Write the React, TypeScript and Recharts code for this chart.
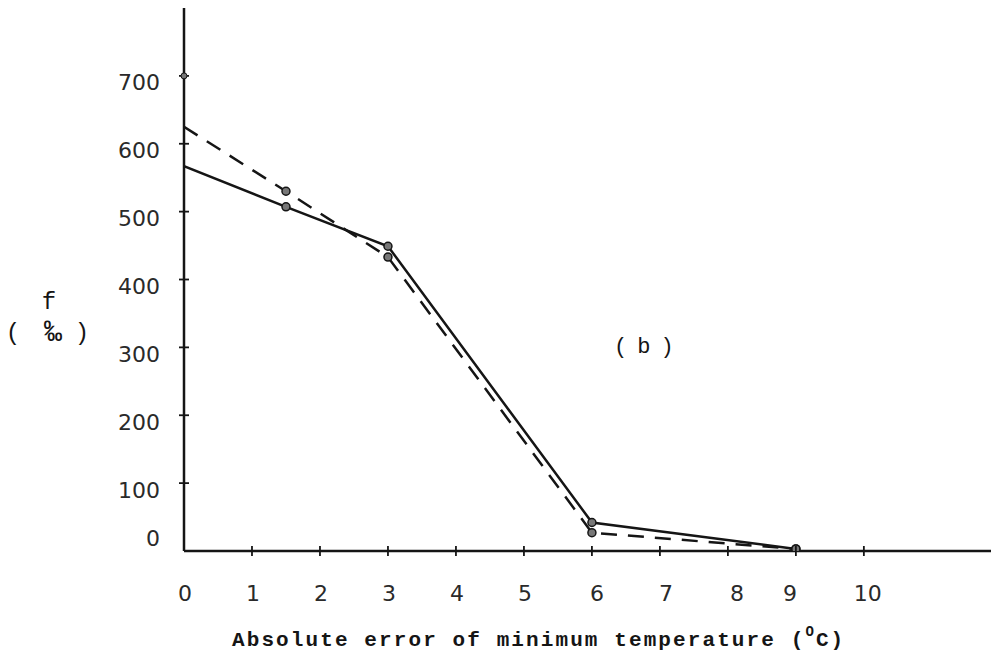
// Frequency f (per mille) of absolute minimum-temperature errors, two forecast series.
import { CartesianGrid, Customized, Line, LineChart, XAxis, YAxis } from 'recharts';

const errorBins = [0, 1.5, 3, 6, 9];
const solidFreq = [567, 507, 449, 42, 3];
const dashedFreq = [625, 530, 433, 27, 3];
const xTicks = [0, 1, 2, 3, 4, 5, 6, 7, 8, 9, 10];
const yTicks = [0, 100, 200, 300, 400, 500, 600, 700];

const data = errorBins.map((e, i) => ({ e, solid: solidFreq[i], dashed: dashedFreq[i] }));

const INK = '#151515';
const LABEL_FONT = '"DejaVu Sans", sans-serif';
const TYPE_FONT = '"Liberation Mono", "DejaVu Sans Mono", monospace';

// small hand-lettered offsets on the x labels
const xNudge: Record<number, number> = { 6: 4, 7: 5, 8: 8, 9: -7, 10: 3 };

function XTick(props: any) {
  const { x, y, payload } = props;
  const v = payload.value as number;
  return (
    <g>
      {v !== 0 && <line x1={x} x2={x} y1={y - 5} y2={y + 5} stroke={INK} strokeWidth={1.8} />}
      <text
        x={x + 1 + (xNudge[v] ?? 0)}
        y={y + 42}
        textAnchor="middle"
        dominantBaseline="central"
        fontFamily={LABEL_FONT}
        fontSize={22}
        fill="#2a2a2a"
      >
        {v}
      </text>
    </g>
  );
}

function YTick(props: any) {
  const { x, y, payload } = props;
  const v = payload.value as number;
  return (
    <g>
      {v !== 0 && <line x1={x - 5} x2={x + 5} y1={y} y2={y} stroke={INK} strokeWidth={1.8} />}
      {v === 700 && <circle cx={x} cy={y} r={3} fill="#777" stroke={INK} strokeWidth={1} />}
      <text
        x={x - 24}
        y={v === 0 ? y - 13 : y + 7}
        textAnchor="end"
        dominantBaseline="central"
        fontFamily={LABEL_FONT}
        fontSize={22}
        fill="#2a2a2a"
      >
        {v}
      </text>
    </g>
  );
}

function Marker(props: any) {
  const { cx, cy, index } = props;
  if (index === 0) return <g key={`m${index}`} />;
  return <circle key={`m${index}`} cx={cx} cy={cy} r={4} fill="#777" stroke={INK} strokeWidth={1.5} />;
}

function Annotations() {
  return (
    <g fontFamily={TYPE_FONT} fill={INK}>
      <text x={49} y={302} fontSize={24} textAnchor="middle" dominantBaseline="central">
        f
      </text>
      <text x={13} y={333} fontSize={24} textAnchor="middle" dominantBaseline="central">
        (
      </text>
      <text x={53} y={333} fontSize={30} textAnchor="middle" dominantBaseline="central">
        ‰
      </text>
      <text x={82} y={333} fontSize={24} textAnchor="middle" dominantBaseline="central">
        )
      </text>
      <text x={614} y={347} fontSize={22} letterSpacing={10} dominantBaseline="central">
        (b)
      </text>
      <text
        x={232}
        y={640}
        fontSize={21}
        fontWeight="bold"
        letterSpacing={2.1}
        dominantBaseline="central"
      >
        Absolute error of minimum temperature (
        <tspan dy={-8} fontSize={14}>
          O
        </tspan>
        <tspan dy={8}>C)</tspan>
      </text>
    </g>
  );
}

export default function App() {
  return (
    <div style={{ position: 'absolute', left: 0, top: 0, width: 991, height: 661, background: '#fff' }}>
      <LineChart width={991} height={661} data={data} margin={{ top: 8, right: 0, bottom: 0, left: 0 }}>
        <CartesianGrid stroke="none" />
        <XAxis
          dataKey="e"
          type="number"
          domain={[0, 11.87]}
          ticks={xTicks}
          allowDataOverflow
          height={110}
          tickSize={0}
          tickMargin={0}
          tickLine={false}
          axisLine={{ stroke: INK, strokeWidth: 2.5 }}
          tick={<XTick />}
        />
        <YAxis
          type="number"
          domain={[0, 800]}
          ticks={yTicks}
          allowDataOverflow
          width={184}
          tickSize={0}
          tickMargin={0}
          tickLine={false}
          axisLine={{ stroke: INK, strokeWidth: 2.5 }}
          tick={<YTick />}
        />
        <Line
          type="linear"
          dataKey="dashed"
          stroke={INK}
          strokeWidth={2.5}
          strokeDasharray="16 11"
          dot={<Marker />}
          activeDot={false}
          isAnimationActive={false}
        />
        <Line
          type="linear"
          dataKey="solid"
          stroke={INK}
          strokeWidth={2.5}
          dot={<Marker />}
          activeDot={false}
          isAnimationActive={false}
        />
        <Customized component={<Annotations />} />
      </LineChart>
    </div>
  );
}
